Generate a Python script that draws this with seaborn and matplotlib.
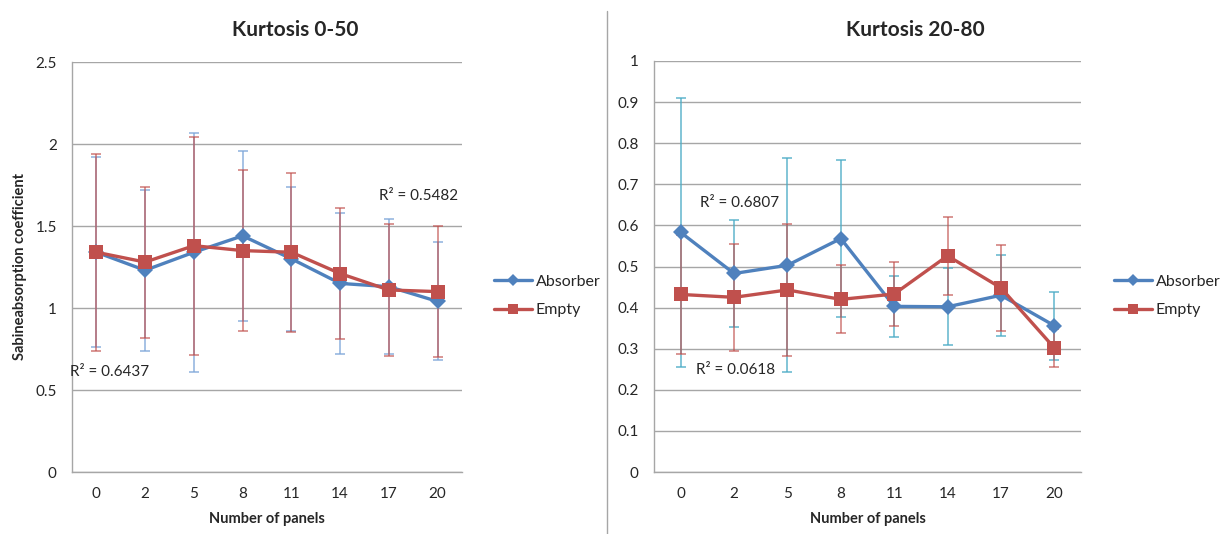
import pandas as pd
import matplotlib.pyplot as plt
import seaborn as sns
from matplotlib.lines import Line2D

# --- dados ---
panels = ['0', '2', '5', '8', '11', '14', '17', '20']

# Kurtosis 0-50
abs_050 = [1.34, 1.23, 1.34, 1.44, 1.30, 1.15, 1.13, 1.04]
abs_050_err = [0.58, 0.49, 0.73, 0.52, 0.44, 0.43, 0.41, 0.36]
emp_050 = [1.34, 1.28, 1.38, 1.35, 1.34, 1.21, 1.11, 1.10]
emp_050_err = [0.60, 0.46, 0.665, 0.49, 0.485, 0.40, 0.40, 0.40]

# Kurtosis 20-80
abs_2080 = [0.583, 0.483, 0.503, 0.568, 0.403, 0.402, 0.43, 0.356]
abs_2080_err = [0.327, 0.13, 0.26, 0.19, 0.074, 0.094, 0.098, 0.083]
emp_2080 = [0.432, 0.425, 0.443, 0.42, 0.433, 0.526, 0.448, 0.302]
emp_2080_err = [0.145, 0.13, 0.16, 0.083, 0.078, 0.095, 0.105, 0.047]

r2_050 = ['R² = 0.6437', 'R² = 0.5482']
r2_2080 = ['R² = 0.6807', 'R² = 0.0618']

series = ['Absorber', 'Empty']
blue = '#4F81BD'
red = '#C0504D'
grid_c = '#A6A6A6'

sns.set_style("white")
plt.rcParams['font.family'] = ['Lato', 'DejaVu Sans']
plt.rcParams['font.size'] = 10.5

fig = plt.figure(figsize=(12.21, 5.34), dpi=100)
ax1 = fig.add_axes([72 / 1221, 62 / 534, 390 / 1221, 410 / 534])
ax2 = fig.add_axes([654 / 1221, 62 / 534, 427 / 1221, 411 / 534])


def make_df(a, e):
    return pd.DataFrame({
        'pos': list(range(len(panels))) * 2,
        'value': a + e,
        'series': [series[0]] * len(a) + [series[1]] * len(e),
    })


def draw(ax, a, a_err, e, e_err, ymax, ystep, err_blue, notes, note_xy):
    x = list(range(len(panels)))
    # barras de erro (semi-transparentes, abaixo das linhas)
    ax.errorbar(x, a, yerr=a_err, fmt='none', ecolor=err_blue, elinewidth=1.3,
                capsize=3.5, capthick=1.3, alpha=0.75, zorder=2)
    ax.errorbar(x, e, yerr=e_err, fmt='none', ecolor=red, elinewidth=1.3,
                capsize=3.5, capthick=1.3, alpha=0.65, zorder=2)
    df = make_df(a, e)
    sns.lineplot(data=df, x='pos', y='value', hue='series', style='series',
                 palette={'Absorber': blue, 'Empty': red},
                 markers={'Absorber': 'D', 'Empty': 's'}, dashes=False,
                 linewidth=2.4, markersize=8, markeredgewidth=0,
                 legend=False, ax=ax, zorder=3)
    # marcador quadrado um pouco maior
    ax.lines[-1].set_markersize(9.5)

    ax.set_xlim(-0.5, len(panels) - 0.5)
    ax.set_ylim(0, ymax)
    yt = [round(i * ystep, 2) for i in range(int(round(ymax / ystep)) + 1)]
    ax.set_yticks(yt)
    ax.set_yticklabels([f'{v:g}' for v in yt])
    ax.set_xticks([i - 0.5 for i in range(len(panels) + 1)])
    ax.set_xticklabels([])
    ax.set_xticks(x, minor=True)
    ax.set_xticklabels(panels, minor=True)
    ax.tick_params(axis='x', which='major', length=5, width=1, color=grid_c, direction='out')
    ax.tick_params(axis='x', which='minor', length=0, pad=11, labelsize=11)
    ax.tick_params(axis='y', length=5, width=1, color=grid_c, direction='out', pad=6,
                   labelsize=11)
    ax.yaxis.grid(True, color=grid_c, linewidth=1)
    ax.set_axisbelow(True)
    for s in ['top', 'right']:
        ax.spines[s].set_visible(False)
    for s in ['left', 'bottom']:
        ax.spines[s].set_color(grid_c)
        ax.spines[s].set_linewidth(1)
    ax.set_xlabel('Number of panels', fontweight='bold', fontsize=10.5)
    ax.xaxis.set_label_coords(0.5, -40 / 410)
    ax.set_ylabel('')
    for txt, (tx, ty) in zip(notes, note_xy):
        ax.text(tx, ty, txt, fontsize=11, ha='left', va='center', zorder=5)


draw(ax1, abs_050, abs_050_err, emp_050, emp_050_err, 2.5, 0.5,
     '#7FA7D9', r2_050, [(-0.55, 0.61), (5.8, 1.685)])
draw(ax2, abs_2080, abs_2080_err, emp_2080, emp_2080_err, 1.0, 0.1,
     '#4BACC6', r2_2080, [(0.36, 0.654), (0.29, 0.248)])

ax1.set_ylabel('Sabineabsorption coefficient', fontweight='bold', fontsize=10.5)
ax1.yaxis.set_label_coords(-45 / 390, 0.5)

# títulos centrados na área do gráfico
fig.text(295 / 1221, 1 - 30 / 534, 'Kurtosis 0-50', fontweight='bold', fontsize=15,
         ha='center', va='center')
fig.text(915 / 1221, 1 - 30 / 534, 'Kurtosis 20-80', fontweight='bold', fontsize=15,
         ha='center', va='center')

# legendas à direita de cada gráfico
handles = [Line2D([], [], color=blue, lw=2.4, marker='D', markersize=6, markeredgewidth=0),
           Line2D([], [], color=red, lw=2.4, marker='s', markersize=7, markeredgewidth=0)]
for lx in [486 / 1221, 1106 / 1221]:
    fig.legend(handles, series, loc='center left', bbox_to_anchor=(lx, 1 - 296 / 534),
               frameon=False, fontsize=11.5, handlelength=2.4, handletextpad=0.2,
               labelspacing=0.9, borderpad=0)

# linha divisória entre os dois gráficos
fig.add_artist(Line2D([607 / 1221] * 2, [0.0, 0.98], color='#A6A6A6', lw=1))

plt.savefig('out.png', dpi=100)
plt.close()
